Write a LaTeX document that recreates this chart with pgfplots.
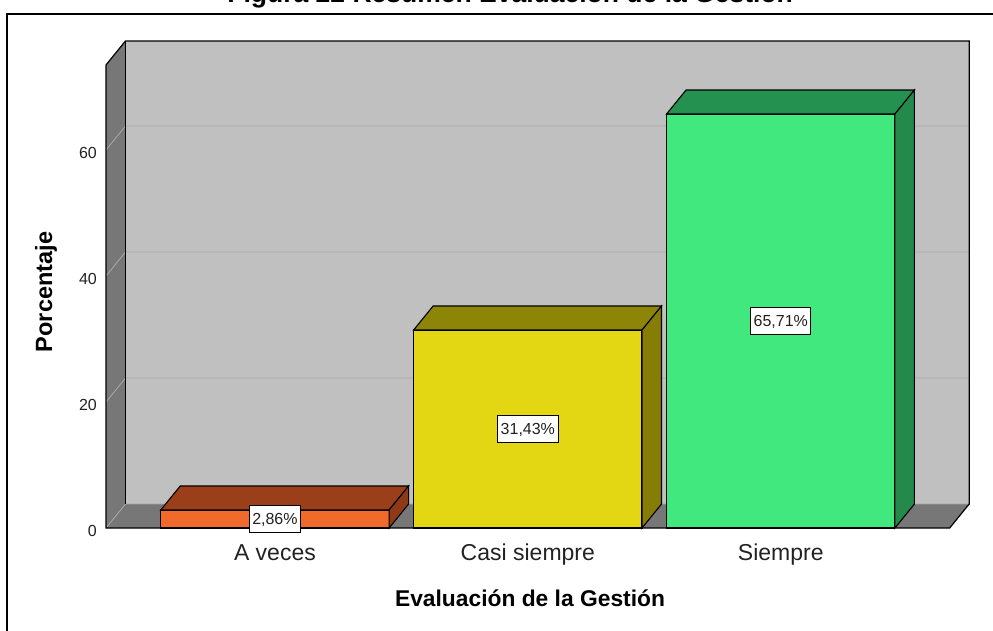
\documentclass[border=0pt]{standalone}
\usepackage{fontspec}
\setmainfont{Liberation Sans}
\usepackage{pgfplots}
\pgfplotsset{compat=1.18}
\pgfplotsset{/pgf/number format/assume math mode=true}

\definecolor{wall}{HTML}{C0C0C0}
\definecolor{sidewall}{HTML}{777777}
\definecolor{gridc}{HTML}{A9A9A9}
\definecolor{aF}{HTML}{F26A2B}\definecolor{aT}{HTML}{9A3F1A}\definecolor{aS}{HTML}{8F3A17}
\definecolor{bF}{HTML}{E2D712}\definecolor{bT}{HTML}{8D8507}\definecolor{bS}{HTML}{857D06}
\definecolor{cF}{HTML}{41E87E}\definecolor{cT}{HTML}{259150}\definecolor{cS}{HTML}{238A4B}
\definecolor{txt}{HTML}{222222}

\def\bhw{114.2pt}
\def\dpx{19.5pt}
\def\dpy{24pt}
\newcommand\declarebox[4]{%
 \pgfdeclareplotmark{#1}{%
  \pgfsetlinewidth{1.1pt}\pgfsetstrokecolor{black}%
  \pgfsetfillcolor{#2}%
  \pgfpathrectanglecorners{\pgfpoint{-\bhw}{-6.3pt*\boxv}}{\pgfpoint{\bhw}{0pt}}%
  \pgfusepath{fill,stroke}%
  \pgfsetfillcolor{#3}%
  \pgfpathmoveto{\pgfpoint{-\bhw}{0pt}}%
  \pgfpathlineto{\pgfpoint{\bhw}{0pt}}%
  \pgfpathlineto{\pgfpoint{\bhw+\dpx}{\dpy}}%
  \pgfpathlineto{\pgfpoint{-\bhw+\dpx}{\dpy}}%
  \pgfpathclose\pgfusepath{fill,stroke}%
  \pgfsetfillcolor{#4}%
  \pgfpathmoveto{\pgfpoint{\bhw}{0pt}}%
  \pgfpathlineto{\pgfpoint{\bhw+\dpx}{\dpy}}%
  \pgfpathlineto{\pgfpoint{\bhw+\dpx}{\dpy-6.3pt*\boxv}}%
  \pgfpathlineto{\pgfpoint{\bhw}{-6.3pt*\boxv}}%
  \pgfpathclose\pgfusepath{fill,stroke}%
 }}
\declarebox{boxA}{aF}{aT}{aS}
\declarebox{boxB}{bF}{bT}{bS}
\declarebox{boxC}{cF}{cT}{cS}

\begin{document}
\begin{tikzpicture}
\useasboundingbox (0,0) rectangle (993pt,630pt);
\clip (0,0) rectangle (993pt,630pt);
\draw[line width=1.5pt] (7pt,-20pt) -- (7pt,616pt) -- (1020pt,616pt);
\begin{axis}[
  at={(106pt,102pt)}, anchor=south west,
  scale only axis,
  x=252.9pt, y=6.3pt,
  xmin=-0.668, xmax=2.668, ymin=0, ymax=73.5,
  clip=false,
  axis line style={draw=none},
  tick style={draw=none},
  xtick={0,1,2},
  xticklabels={A veces, Casi siempre, Siempre},
  ytick={0,20,40,60},
  xticklabel style={font=\fontsize{23}{27}\selectfont, text=txt, anchor=base, yshift=-32pt},
  yticklabel style={font=\fontsize{16}{18}\selectfont, text=txt, anchor=east, inner sep=0pt, xshift=-9pt, yshift=-3pt},
  title={Figura 22 Resumen Evaluación de la Gestión},
  title style={at={(axis description cs:0.479,1.121)}, anchor=base, font=\bfseries\fontsize{26.5}{30}\selectfont},
  xlabel={Evaluación de la Gestión},
  xlabel style={at={(axis description cs:0.5026,-0.1685)}, anchor=base, font=\bfseries\fontsize{22.8}{26}\selectfont},
  ylabel={Porcentaje},
  ylabel style={at={(axis description cs:-0.0711,0.5097)}, anchor=center, rotate=0, font=\bfseries\fontsize{23.5}{27}\selectfont},
  bar3d/.style={only marks, mark=#1,
    visualization depends on={rawy \as \boxv},
    nodes near coords={\pgfmathprintnumber[fixed,fixed zerofill,precision=2,use comma]{\boxv}\%},
    nodes near coords style={anchor=center, yshift=-3.15pt*\boxv, fill=white, draw=black,
      line width=0.8pt, inner xsep=3pt, inner ysep=7.5pt, text height=11.5pt, text depth=0pt,
      font=\fontsize{16}{18}\selectfont, text=txt}},
]
% walls
\fill[wall] ([shift={(19.5pt,24pt)}]rel axis cs:0,0) rectangle ([shift={(19.5pt,24pt)}]rel axis cs:1,1);
\fill[sidewall] (rel axis cs:0,0) -- (rel axis cs:0,1) -- ([shift={(19.5pt,24pt)}]rel axis cs:0,1) -- ([shift={(19.5pt,24pt)}]rel axis cs:0,0) -- cycle;
\fill[sidewall] (rel axis cs:0,0) -- (rel axis cs:1,0) -- ([shift={(19.5pt,24pt)}]rel axis cs:1,0) -- ([shift={(19.5pt,24pt)}]rel axis cs:0,0) -- cycle;
\pgfplotsinvokeforeach{0,20,40,60}{
  \draw[gridc, line width=0.8pt] (axis cs:-0.668,#1) -- ([shift={(19.5pt,24pt)}]axis cs:-0.668,#1) -- ([shift={(19.5pt,24pt)}]axis cs:2.668,#1);
}
\draw[black, line width=1.2pt] (rel axis cs:0,0) -- (rel axis cs:0,1) -- ([shift={(19.5pt,24pt)}]rel axis cs:0,1) -- ([shift={(19.5pt,24pt)}]rel axis cs:1,1) -- ([shift={(19.5pt,24pt)}]rel axis cs:1,0) -- (rel axis cs:1,0) -- cycle;
\draw[black, line width=1.2pt] ([shift={(19.5pt,24pt)}]rel axis cs:0,1) -- ([shift={(19.5pt,24pt)}]rel axis cs:0,0);
% bars
\addplot[bar3d=boxA] coordinates {(0,2.86)};
\addplot[bar3d=boxB] coordinates {(1,31.43)};
\addplot[bar3d=boxC] coordinates {(2,65.71)};
\end{axis}
\end{tikzpicture}
\end{document}
